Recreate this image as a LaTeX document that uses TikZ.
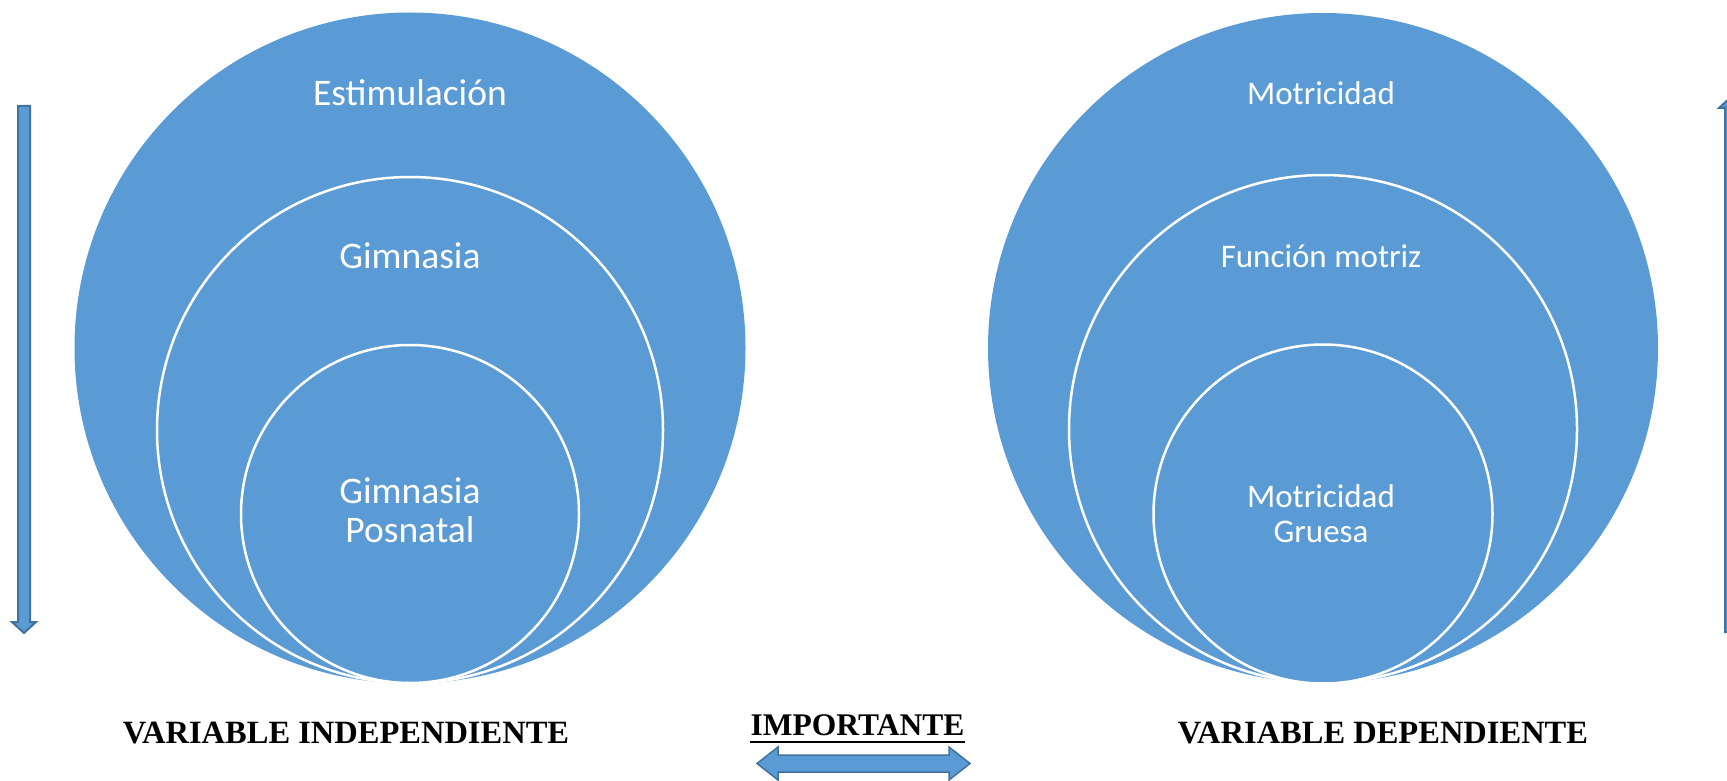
\documentclass[tikz,border=0pt]{standalone}
\usepackage{fontspec}
\setmainfont{Liberation Serif}
\newfontfamily\calibri{Carlito}
\usepackage{xcolor}
\usepackage{tikz}
\usetikzlibrary{positioning}
\definecolor{officeblue}{HTML}{5B9BD5}
\definecolor{officeline}{HTML}{41719C}

\begin{document}
\begin{tikzpicture}[x=1pt, y=-1pt, thick,
	ring/.style={circle, fill=officeblue, draw=white, line width=2.5pt, inner sep=0pt},
	txtL/.style={text=white, font=\calibri\fontsize{37.5}{39}\selectfont, align=center, anchor=base},
	txtR/.style={text=white, font=\calibri\fontsize{33}{35}\selectfont, align=center, anchor=base},
	varlbl/.style={font=\bfseries\fontsize{32.5}{36}\selectfont, anchor=base, inner sep=0pt},
	blockarrow/.style={fill=officeblue, draw=officeline, line width=2pt, line join=miter},
]
\useasboundingbox (0,0) rectangle (1727,781);
\node [ring, draw=none, minimum size=671pt] (est) at (410,348) {};
\node [ring, minimum size=506pt] (gim) at (410,430) {};
\node [ring, minimum size=338pt] (pos) at (410,514) {};
\node [ring, draw=none, minimum size=670pt] (mot) at (1323,348) {};
\node [ring, minimum size=508pt] (fun) at (1323,429) {};
\node [ring, minimum size=339pt] (gru) at (1323,514) {};
%
\node [txtL] (estT) at (410,106) {Estimulación};
\node [txtL] (gimT) at (410,268) {Gimnasia};
\node [txtL] (posT) at (410,542) {Gimnasia\\Posnatal};
\node [txtR] (motT) at (1321,105) {Motricidad};
\node [txtR] (funT) at (1321,267) {Función motriz};
\node [txtR] (gruT) at (1321,542) {Motricidad\\Gruesa};
%
\node [varlbl] (indep) at (346,743) {VARIABLE INDEPENDIENTE};
\node [varlbl] (dep) at (1383,743) {VARIABLE DEPENDIENTE};
\node [varlbl, font=\bfseries\fontsize{31.5}{36}\selectfont] (imp) at (857.5,735) {IMPORTANTE};
\draw [line width=2.8pt] ([yshift=-7pt]imp.base west) -- ([yshift=-7pt]imp.base east);
%
\draw [blockarrow] (18,106) -- (30,106) -- (30,622) -- (36,622) -- (24,633) -- (12,622) -- (18,622) -- cycle;
\draw [blockarrow] (1725,632) -- (1725,108) -- (1719,108) -- (1731,97) -- (1743,108) -- (1737,108) -- (1737,632) -- cycle;
\draw [blockarrow, line width=1.5pt] (757,763.5) -- (778,747) -- (778,755) -- (949,755) -- (949,747) -- (970,763.5)
	-- (949,780) -- (949,772) -- (778,772) -- (778,780) -- cycle;
\end{tikzpicture}
\end{document}
